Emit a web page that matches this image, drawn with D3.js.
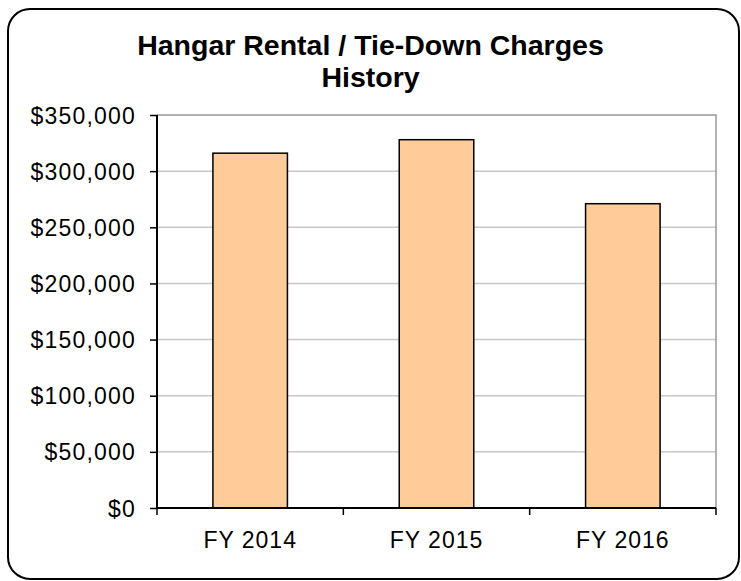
<!DOCTYPE html>
<html>
<head>
<meta charset="utf-8">
<script src="https://cdn.jsdelivr.net/npm/d3@7"></script>
<style>
  body { margin: 0; background: #fff; }
  text { font-family: "Liberation Sans", Arial, sans-serif; fill: #000; }
</style>
</head>
<body>
<svg id="chart" width="741" height="581"></svg>
<script>
const categories = ["FY 2014", "FY 2015", "FY 2016"];
const charges = [316000, 328000, 271000];
const yTicks = [0, 50000, 100000, 150000, 200000, 250000, 300000, 350000];
const titleLines = ["Hangar Rental / Tie-Down Charges", "History"];

const W = 741, H = 581;
const margin = {top: 115, right: 25, bottom: 73, left: 157};
const svg = d3.select("#chart");

// outer frame with rounded corners
svg.append("rect")
    .attr("x", 8).attr("y", 9)
    .attr("width", 731).attr("height", 570)
    .attr("rx", 22).attr("ry", 22)
    .attr("fill", "#fff")
    .attr("stroke", "#000")
    .attr("stroke-width", 2);

svg.append("text")
    .attr("x", W / 2)
    .attr("text-anchor", "middle")
    .attr("font-weight", "bold")
    .attr("font-size", 28.5)
    .selectAll("tspan")
    .data(titleLines)
    .join("tspan")
        .attr("x", W / 2)
        .attr("y", (d, i) => 55 + i * 32)
        .text(d => d);

const x = d3.scaleBand()
    .domain(categories)
    .range([margin.left, W - margin.right])
    .padding(0);

const y = d3.scaleLinear()
    .domain([0, 350000])
    .range([H - margin.bottom, margin.top]);

const fmt = d => "$" + d3.format(",")(d);

// gridlines
svg.append("g")
    .selectAll("line")
    .data(yTicks.slice(1, -1))
    .join("line")
        .attr("x1", margin.left).attr("x2", W - margin.right)
        .attr("y1", d => y(d)).attr("y2", d => y(d))
        .attr("stroke", "#c8c8c8")
        .attr("stroke-width", 1.5);

// plot area border (top + right)
svg.append("path")
    .attr("d", `M${margin.left},${y(350000)}H${W - margin.right}V${y(0)}`)
    .attr("fill", "none")
    .attr("stroke", "#999")
    .attr("stroke-width", 1.5);

// bars
const barW = x.bandwidth() * 0.4;
svg.append("g")
    .selectAll("rect")
    .data(charges)
    .join("rect")
        .attr("x", (d, i) => x(categories[i]) + (x.bandwidth() - barW) / 2)
        .attr("y", d => y(d))
        .attr("width", barW)
        .attr("height", d => y(0) - y(d))
        .attr("fill", "#ffcc99")
        .attr("stroke", "#000")
        .attr("stroke-width", 1.5);

// y axis
const yAxis = svg.append("g")
    .attr("transform", `translate(${margin.left},0)`)
    .call(d3.axisLeft(y).tickValues(yTicks).tickFormat(fmt).tickSize(7).tickPadding(14))
    .attr("font-size", 23)
    .attr("font-family", null);
yAxis.select(".domain").attr("stroke", "#000").attr("stroke-width", 2).attr("d", `M0,${y(350000)}V${y(0)}`);
yAxis.selectAll(".tick line").attr("stroke", "#000").attr("stroke-width", 1.5);
yAxis.selectAll("text")
    .attr("dy", "0.35em")
    .style("letter-spacing", "1.2px");

// x axis with ticks at band boundaries
const xAxisG = svg.append("g")
    .attr("transform", `translate(0,${y(0)})`);
xAxisG.append("line")
    .attr("x1", margin.left).attr("x2", W - margin.right)
    .attr("stroke", "#000").attr("stroke-width", 2);
const bounds = categories.map(c => x(c)).concat([x(categories[categories.length - 1]) + x.bandwidth()]);
xAxisG.selectAll(".xt")
    .data(bounds)
    .join("line")
        .attr("class", "xt")
        .attr("x1", d => d).attr("x2", d => d)
        .attr("y1", 0).attr("y2", 7)
        .attr("stroke", "#000").attr("stroke-width", 1.5);
xAxisG.selectAll(".xl")
    .data(categories)
    .join("text")
        .attr("class", "xl")
        .attr("x", d => x(d) + x.bandwidth() / 2)
        .attr("y", 40)
        .attr("text-anchor", "middle")
        .attr("font-size", 23)
        .style("letter-spacing", "1px")
        .text(d => d);
</script>
</body>
</html>
